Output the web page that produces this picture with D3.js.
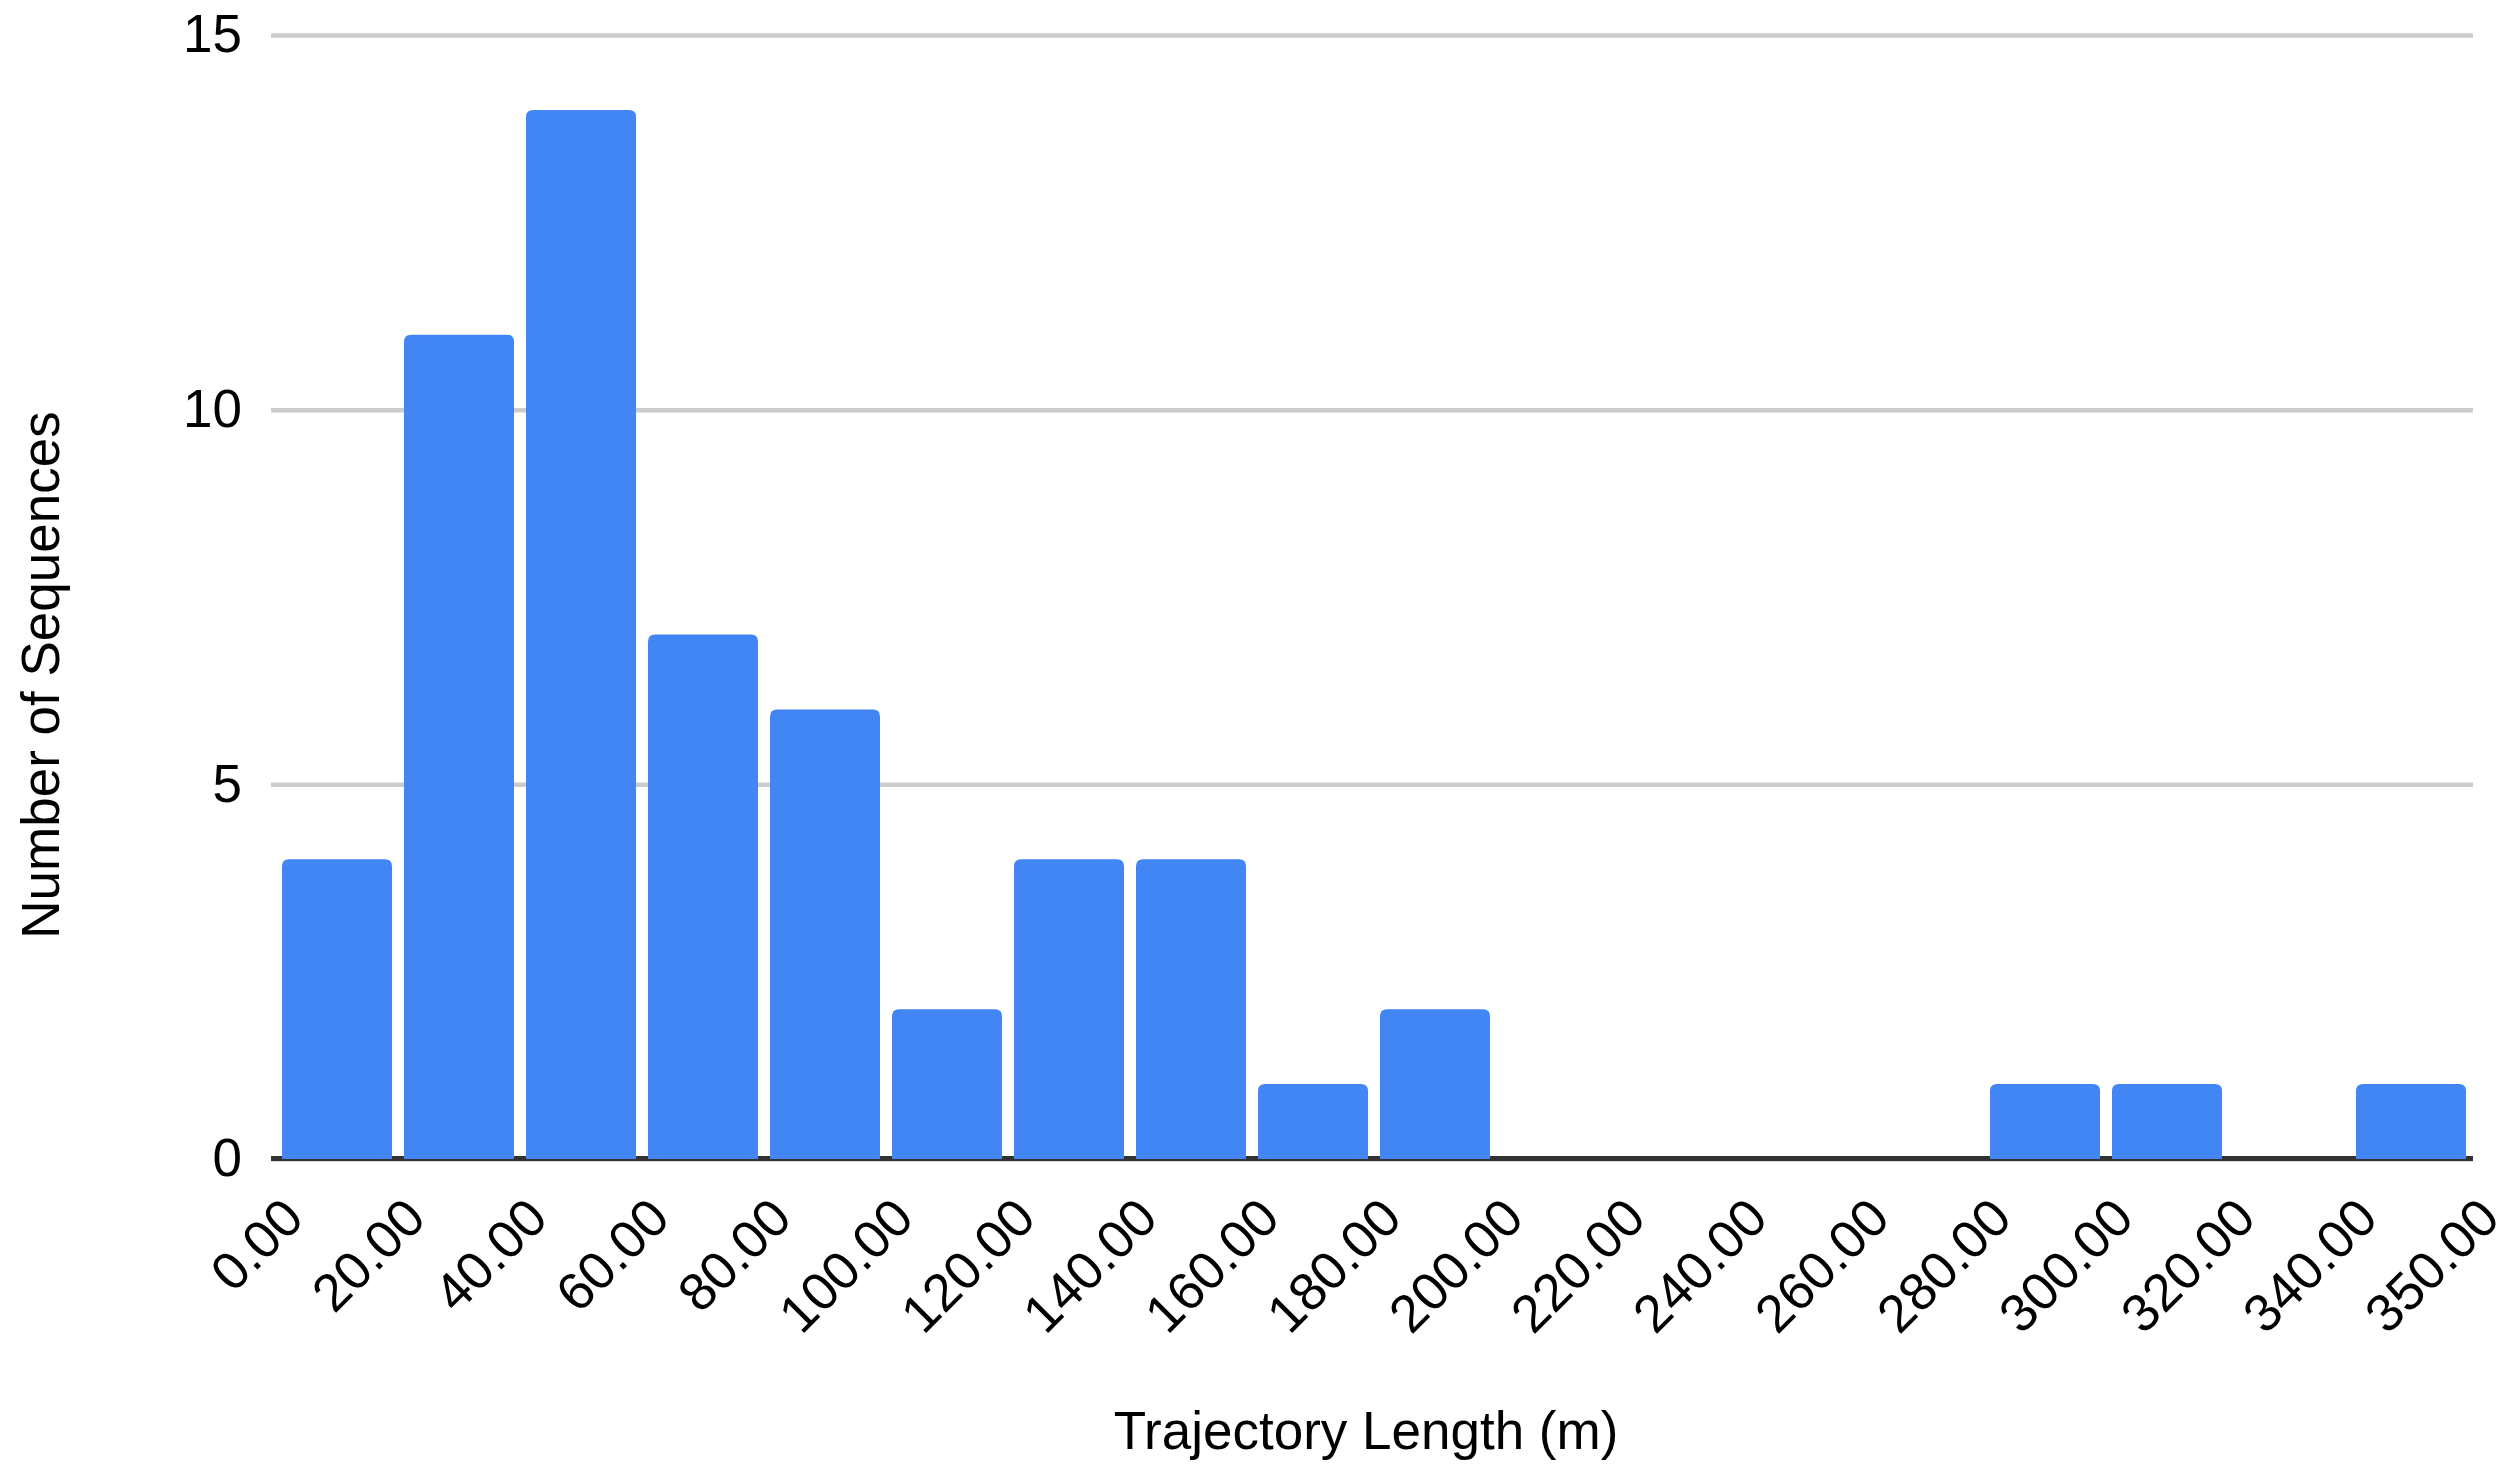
<!DOCTYPE html>
<html>
<head>
<meta charset="utf-8">
<script src="https://cdn.jsdelivr.net/npm/d3@7"></script>
<style>
  body { margin: 0; background: #fff; }
  svg { display: block; font-family: Arial, "Liberation Sans", sans-serif; }
</style>
</head>
<body>
<div id="chart"></div>
<script>
// Histogram bins (20 m wide) and their counts
const binEdges = ["0.00", "20.00", "40.00", "60.00", "80.00", "100.00", "120.00", "140.00", "160.00",
                  "180.00", "200.00", "220.00", "240.00", "260.00", "280.00", "300.00", "320.00", "340.00", "350.00"];
const counts = [4, 11, 14, 7, 6, 2, 4, 4, 1, 2, 0, 0, 0, 0, 1, 1, 0, 1];
const yTicks = [0, 5, 10, 15];

const xTitle = "Trajectory Length (m)";
const yTitle = "Number of Sequences";

// Page size and plot box
const W = 2509, H = 1481;
const plot = { left: 271, right: 2473, top: 35, bottom: 1159 };
const fontSize = "53px";

const svg = d3.select("#chart")
  .append("svg")
  .attr("width", W)
  .attr("height", H);

// Scales: bin edges along x, counts along y
const x = d3.scalePoint()
  .domain(binEdges)
  .range([276, 2472]);

const y = d3.scaleLinear()
  .domain([0, 15])
  .range([plot.bottom, plot.top]);

// Y axis with gridlines across the plot
const yAxis = svg.append("g")
  .attr("transform", `translate(${plot.left},0)`)
  .call(d3.axisLeft(y)
    .tickValues(yTicks)
    .tickSize(-(plot.right - plot.left))
    .tickPadding(29));

yAxis.select(".domain").remove();
yAxis.selectAll(".tick line")
  .attr("stroke", "#cccccc")
  .attr("stroke-width", 4.5);
yAxis.selectAll(".tick text")
  .attr("fill", "#000")
  .style("font-size", fontSize);

// Bars with rounded top corners
const barPad = 6;
const r = 7;
function barPath(i, v) {
  const x0 = x(binEdges[i]) + barPad;
  const x1 = x(binEdges[i + 1]) - barPad;
  const y0 = y(0);
  const y1 = y(v);
  return `M${x0},${y0}V${y1 + r}Q${x0},${y1} ${x0 + r},${y1}H${x1 - r}Q${x1},${y1} ${x1},${y1 + r}V${y0}Z`;
}

// Baseline
svg.append("line")
  .attr("x1", plot.left)
  .attr("x2", plot.right)
  .attr("y1", y(0) - 0.5)
  .attr("y2", y(0) - 0.5)
  .attr("stroke", "#333333")
  .attr("stroke-width", 5);

svg.append("g")
  .selectAll("path")
  .data(counts.map((v, i) => ({ v, i })).filter(d => d.v > 0))
  .enter()
  .append("path")
  .attr("d", d => barPath(d.i, d.v))
  .attr("fill", "#4285f4");

// X axis: bin edge labels rotated 45 degrees
const xAxis = svg.append("g")
  .attr("transform", `translate(0,${plot.bottom})`)
  .call(d3.axisBottom(x).tickSize(0));

xAxis.select(".domain").remove();
xAxis.selectAll(".tick text")
  .attr("fill", "#000")
  .attr("text-anchor", "end")
  .attr("x", 0)
  .attr("y", 0)
  .attr("dy", null)
  .attr("transform", "translate(29.5,62) rotate(-45)")
  .style("font-size", fontSize);

// Axis titles
svg.append("text")
  .attr("x", (plot.left + plot.right) / 2 - 6)
  .attr("y", 1449)
  .attr("text-anchor", "middle")
  .style("font-size", fontSize)
  .text(xTitle);

svg.append("text")
  .attr("transform", "translate(59,675) rotate(-90)")
  .attr("text-anchor", "middle")
  .style("font-size", fontSize)
  .text(yTitle);
</script>
</body>
</html>
